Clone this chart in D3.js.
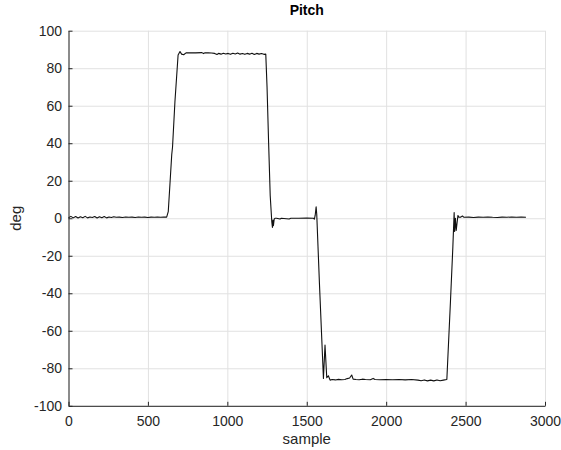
<!DOCTYPE html>
<html>
<head>
<meta charset="utf-8">
<script src="https://cdn.jsdelivr.net/npm/d3@7"></script>
<style>
  html, body { margin: 0; padding: 0; background: #fff; }
  svg { display: block; font-family: "Liberation Sans", Arial, Helvetica, sans-serif; }
</style>
</head>
<body>
<svg id="chart" width="561" height="450"></svg>
<script>
// ---- data ----
const titleText = "Pitch";
const xLabel = "sample";
const yLabel = "deg";
const xTicks = [0, 500, 1000, 1500, 2000, 2500, 3000];
const yTicks = [-100, -80, -60, -40, -20, 0, 20, 40, 60, 80, 100];

const sampleIdx = [
  0, 15, 30, 45, 60, 75, 90, 105, 120, 135, 150, 165, 180, 195, 210, 225, 240, 255, 270, 285,
  300, 320, 340, 360, 380, 400, 420, 440, 460, 480, 500, 520, 540, 560, 580, 600, 618,
  628, 640, 650, 655, 670, 690, 702, 712, 725, 740,
  760, 800, 840, 850, 860, 880, 900, 920, 935, 945, 960, 975, 990, 1005, 1020, 1035, 1050, 1065,
  1080, 1095, 1110, 1125, 1140, 1155, 1170, 1185, 1200, 1215, 1230, 1242,
  1250, 1260, 1270, 1280, 1284, 1287, 1290, 1295, 1300,
  1310, 1332, 1340, 1389, 1400, 1450, 1500, 1542, 1548, 1553, 1559, 1563,
  1580, 1605, 1615, 1626, 1636, 1647, 1660, 1680, 1700, 1720, 1740, 1755, 1770, 1783, 1792,
  1810, 1830, 1850, 1870, 1900, 1918, 1930, 1960, 2000, 2040, 2080, 2120, 2160, 2200, 2220,
  2240, 2260, 2280, 2300, 2320, 2340, 2360, 2382,
  2405, 2420, 2428, 2431, 2436, 2441, 2447, 2452, 2458, 2470, 2480, 2490,
  2520, 2550, 2580, 2610, 2640, 2670, 2700, 2730, 2760, 2790, 2820, 2850, 2880
];
const pitchDeg = [
  0.3, 1.0, 0.2, 0.9, 0.1, 0.8, 0.3, 1.0, 0.2, 0.7, 0.4, 0.9, 0.1, 0.8, 0.3, 0.9, 0.2, 0.7, 0.4, 0.8,
  0.5, 0.6, 0.4, 0.7, 0.5, 0.6, 0.4, 0.7, 0.5, 0.6, 0.4, 0.6, 0.5, 0.6, 0.5, 0.6, 0.6,
  3.5, 20, 34, 38, 62, 87, 88.9, 87.5, 87.2, 88.2,
  88.2, 88.2, 88.3, 87.8, 88.2, 88.2, 88.1, 87.9, 87.3, 87.9, 87.5, 88.0, 87.6, 87.9, 87.4, 88.0, 87.6, 88.1,
  87.5, 87.8, 87.4, 87.9, 87.5, 88.0, 87.3, 87.9, 87.5, 87.8, 87.4, 87.5,
  70, 40, 12, -2, -4.9, -1, -4, -0.5, 0,
  0, -0.4, 0, -0.4, 0, 0, 0.1, 0, -0.5, 1.5, 6.1, 2,
  -35, -85.4, -67.6, -85, -84, -86.3, -86, -86.2, -85.9, -86.1, -86, -85.5, -85.2, -83.6, -85.8,
  -86, -86.1, -85.8, -86, -86.1, -85.4, -86, -86.1, -86, -86.1, -86, -86.2, -86, -86.3, -86.6,
  -86.2, -86.7, -86.3, -86.7, -86.2, -86.6, -86.3, -86,
  -44, -15, 3, -7, 0, -6.5, -2, 1.5, 0.5, 0.6, 1.2, 0.5,
  0.6, 0.4, 0.6, 0.5, 0.7, 0.5, 0.4, 0.6, 0.5, 0.7, 0.5, 0.6, 0.5
];

// ---- layout ----
const svg = d3.select("#chart");
const plotL = 68.5, plotR = 545, plotT = 30.7, plotB = 405.8;
const x = d3.scaleLinear().domain([0, 3000]).range([plotL, plotR]);
const y = d3.scaleLinear().domain([-100, 100]).range([plotB, plotT]);
const axisColor = "#262626";
const fmt = d => String(d);   // plain hyphen-minus like the reference

// grid
svg.append("g").attr("transform", `translate(0,${plotB})`)
  .call(d3.axisBottom(x).tickValues(xTicks).tickSize(-(plotB - plotT)).tickFormat(""))
  .call(g => g.select(".domain").remove())
  .call(g => g.selectAll("line").attr("stroke", "#e1e1e1").attr("stroke-width", 1));
svg.append("g").attr("transform", `translate(${plotL},0)`)
  .call(d3.axisLeft(y).tickValues(yTicks).tickSize(-(plotR - plotL)).tickFormat(""))
  .call(g => g.select(".domain").remove())
  .call(g => g.selectAll("line").attr("stroke", "#e1e1e1").attr("stroke-width", 1));

// line
const pts = sampleIdx.map((s, i) => [s, pitchDeg[i]]);
svg.append("path")
  .datum(pts)
  .attr("fill", "none")
  .attr("stroke", "#111")
  .attr("stroke-width", 1.1)
  .attr("stroke-linejoin", "round")
  .attr("d", d3.line().x(d => x(d[0])).y(d => y(d[1])));

// axes
const xAxis = svg.append("g").attr("transform", `translate(0,${plotB})`)
  .call(d3.axisBottom(x).tickValues(xTicks).tickSizeInner(-4).tickSizeOuter(0).tickPadding(10).tickFormat(fmt));
const yAxis = svg.append("g").attr("transform", `translate(${plotL},0)`)
  .call(d3.axisLeft(y).tickValues(yTicks).tickSizeInner(-4).tickSizeOuter(0).tickPadding(6.5).tickFormat(fmt));
[xAxis, yAxis].forEach(g => {
  g.select(".domain").attr("stroke", axisColor).attr("stroke-width", 1);
  g.selectAll(".tick line").attr("stroke", axisColor);
  g.selectAll(".tick text").attr("fill", axisColor).style("font-size", "14px")
    .style("font-family", "'Liberation Sans', Arial, sans-serif");
});

// title and labels
svg.append("text").attr("x", (plotL + plotR) / 2).attr("y", 15)
  .attr("text-anchor", "middle").attr("font-weight", "bold").attr("font-size", 14)
  .attr("fill", "#000").text(titleText);
svg.append("text").attr("x", (plotL + plotR) / 2).attr("y", 443.5)
  .attr("text-anchor", "middle").attr("font-size", 15).attr("fill", axisColor).text(xLabel);
svg.append("text").attr("transform", `translate(21,${(plotT + plotB) / 2}) rotate(-90)`)
  .attr("text-anchor", "middle").attr("font-size", 15).attr("fill", axisColor).text(yLabel);
</script>
</body>
</html>
